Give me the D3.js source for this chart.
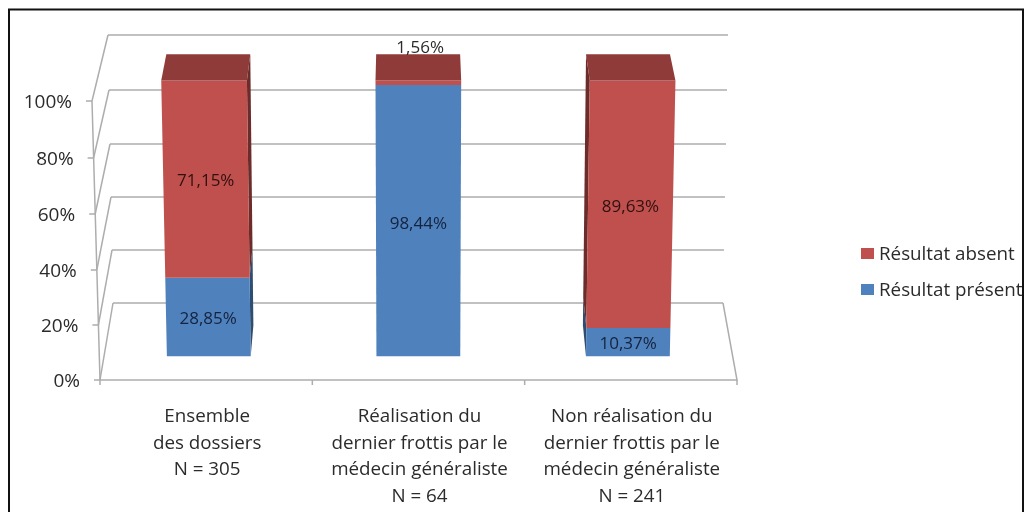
<!DOCTYPE html>
<html>
<head>
<meta charset="utf-8">
<script src="https://cdn.jsdelivr.net/npm/d3@7"></script>
<style>
    html, body { margin: 0; padding: 0; background: #fff; }
    svg { display: block; font-family: "Open Sans", Lato, sans-serif; filter: blur(0.45px); }
</style>
</head>
<body>
<div id="graph"></div>
<script>
// values
const categories = [
    ["Ensemble", "des dossiers", "N = 305"],
    ["Réalisation du", "dernier frottis par le", "médecin généraliste", "N = 64"],
    ["Non réalisation du", "dernier frottis par le", "médecin généraliste", "N = 241"]
];
const seriesNames = ["Résultat présent", "Résultat absent"];
const present = [28.85, 98.44, 10.37];
const absent = [71.15, 1.56, 89.63];
const presentLabels = ["28,85%", "98,44%", "10,37%"];
const absentLabels = ["71,15%", "1,56%", "89,63%"];
const ticks = [0, 20, 40, 60, 80, 100];

const width = 1024, height = 512;
const colors = ["#4F81BD", "#C0504D"];
const topColors = ["#3F6797", "#8F3B39"];
const sideColors = ["#2F4D71", "#6B2C2A"];
const gridColor = "#ADADAD";
const textColor = "#2b2b2b";

let svg = d3.select("#graph")
    .append("svg")
    .attr("width", width)
    .attr("height", height);

// Fake 3D: y depends on value and depth, x edges lean in with depth and value
let yFront = d3.scaleLinear().domain(ticks).range([380, 325, 270, 214, 158, 101]);
let yBack = d3.scaleLinear().domain(ticks).range([303, 250, 197, 144, 90, 35]);
let leftFront = d3.scaleLinear().domain([0, 100]).range([100, 92]);
let rightFront = d3.scaleLinear().domain([0, 100]).range([737, 745]);
let leftBack = d3.scaleLinear().domain([0, 100]).range([113, 108]);
let rightBack = d3.scaleLinear().domain([0, 100]).range([723, 728]);

// u: position along categories (0-3), v: percent, d: depth (0 front, 1 back)
function project(u, v, d) {
    let left = d3.interpolateNumber(leftFront(v), leftBack(v))(d);
    let right = d3.interpolateNumber(rightFront(v), rightBack(v))(d);
    return [
        d3.interpolateNumber(left, right)(u / categories.length),
        d3.interpolateNumber(yFront(v), yBack(v))(d)
    ];
}

const line = d3.line();
const barFront = 0.31, barBack = 0.71, barPad = 0.3;

// Back wall gridlines
svg.selectAll(".grid").data(ticks).enter()
    .append("path")
    .attr("class", "grid")
    .attr("d", d => line([project(0, d, 1), project(3, d, 1)]))
    .attr("stroke", gridColor).attr("stroke-width", 1.5).attr("fill", "none");

// Left wall
svg.selectAll(".wall").data(ticks).enter()
    .append("path")
    .attr("class", "wall")
    .attr("d", d => line([project(0, d, 0), project(0, d, 1)]))
    .attr("stroke", gridColor).attr("stroke-width", 1.5).attr("fill", "none");

// Floor front and right edges, value axis
svg.append("path")
    .attr("d", line([project(0, 100, 0), project(0, 0, 0), project(3, 0, 0), project(3, 0, 1)]))
    .attr("stroke", gridColor).attr("stroke-width", 1.5).attr("fill", "none");

// Value axis ticks and labels
svg.selectAll(".ytick").data(ticks).enter()
    .append("path")
    .attr("class", "ytick")
    .attr("d", d => {
        let p = project(0, d, 0);
        return line([[p[0] - 6, p[1]], p]);
    })
    .attr("stroke", gridColor).attr("stroke-width", 1.5);

svg.selectAll(".ylabel").data(ticks).enter()
    .append("text")
    .attr("class", "ylabel")
    .attr("x", d => project(0, d, 0)[0] - 20)
    .attr("y", d => project(0, d, 0)[1] + 7)
    .attr("text-anchor", "end")
    .attr("font-size", 19)
    .attr("fill", textColor)
    .text(d => d + "%");

// Category ticks
svg.selectAll(".xtick").data(d3.range(categories.length + 1)).enter()
    .append("path")
    .attr("class", "xtick")
    .attr("d", d => {
        let p = project(d, 0, 0);
        return line([p, [p[0], p[1] + 5]]);
    })
    .attr("stroke", gridColor).attr("stroke-width", 1.5);

// Stacked bars, each segment as its visible faces
categories.forEach(function (c, i) {
    let u0 = i + barPad, u1 = i + 1 - barPad;
    let stops = [[0, present[i]], [present[i], present[i] + absent[i]]];
    stops.forEach(function (s, k) {
        let g = svg.append("g");
        // side face, only the one turned to the viewer shows
        let uSide = i === 0 ? u1 : i === 2 ? u0 : null;
        if (uSide !== null) {
            g.append("path")
                .attr("d", line([project(uSide, s[0], barFront), project(uSide, s[0], barBack),
                    project(uSide, s[1], barBack), project(uSide, s[1], barFront)]) + "Z")
                .attr("fill", sideColors[k]);
        }
        g.append("path")
            .attr("d", line([project(u0, s[0], barFront), project(u1, s[0], barFront),
                project(u1, s[1], barFront), project(u0, s[1], barFront)]) + "Z")
            .attr("fill", colors[k]);
        if (k === 1) {
            g.append("path")
                .attr("d", line([project(u0, s[1], barFront), project(u1, s[1], barFront),
                    project(u1, s[1], barBack), project(u0, s[1], barBack)]) + "Z")
                .attr("fill", topColors[k]);
        }
    });
});

// Data labels, the thin 1,56% segment has its label moved above the bar
categories.forEach(function (c, i) {
    let cu = i + 0.5;
    let low = project(cu, present[i] / 2, barFront);
    svg.append("text")
        .attr("x", low[0]).attr("y", low[1] + 7)
        .attr("text-anchor", "middle").attr("font-size", 17)
        .attr("fill", "#14233f")
        .text(presentLabels[i]);

    let high = project(cu, present[i] + absent[i] / 2, barFront);
    if (absent[i] < 5) high = [project(cu, 100, barBack)[0] + 2, project(cu, 100, barBack)[1] - 7];
    svg.append("text")
        .attr("x", high[0]).attr("y", high[1] + 6)
        .attr("text-anchor", "middle").attr("font-size", 17)
        .attr("fill", absent[i] < 5 ? textColor : "#2f1010")
        .text(absentLabels[i]);
});

// Category labels
categories.forEach(function (c, i) {
    let x = project(i + 0.5, 0, 0)[0] + 1;
    svg.append("text")
        .attr("text-anchor", "middle")
        .attr("font-size", 18.8)
        .attr("fill", textColor)
        .selectAll("tspan").data(c).enter()
        .append("tspan")
        .attr("x", x)
        .attr("y", (d, j) => 422 + j * 26.5)
        .text(d => d);
});

// Legend
const legendOrder = [1, 0];
legendOrder.forEach(function (k, j) {
    svg.append("rect")
        .attr("x", 861).attr("y", 248 + j * 36)
        .attr("width", 13).attr("height", 11)
        .attr("fill", colors[k]);
    svg.append("text")
        .attr("x", 879).attr("y", 260 + j * 36)
        .attr("font-size", 18.8)
        .attr("fill", textColor)
        .text(seriesNames[k]);
});

// Outer frame, on top so it cuts the legend text
svg.append("rect")
    .attr("x", 9).attr("y", 9.5)
    .attr("width", 1014).attr("height", 600)
    .attr("fill", "none")
    .attr("stroke", "#111")
    .attr("stroke-width", 2);
</script>
</body>
</html>
